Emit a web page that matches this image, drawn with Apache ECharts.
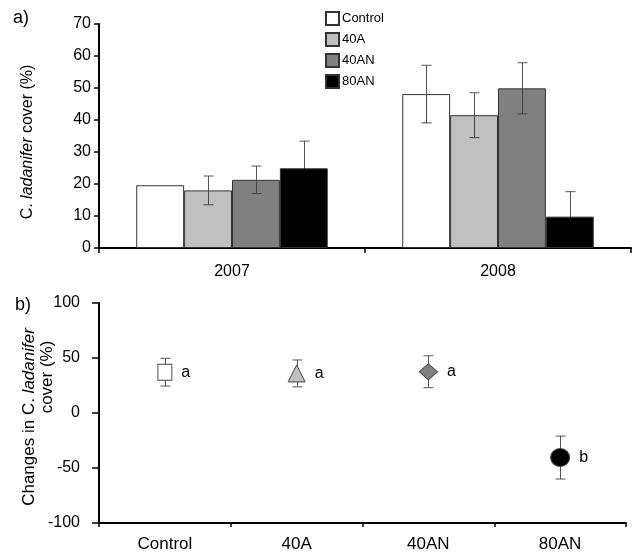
<!DOCTYPE html>
<html>
<head>
<meta charset="utf-8">
<script src="https://cdn.jsdelivr.net/npm/echarts@6/dist/echarts.min.js"></script>
<style>
html,body{margin:0;padding:0;background:#fff;}
#chart{width:634px;height:556px;}
</style>
</head>
<body>
<div id="chart"></div>
<script>
// ---- data ----
const years = ['2007', '2008'];
const treatments = ['Control', '40A', '40AN', '80AN'];
const coverControl = [19.6, 48.1];
const cover40A = [18.0, 41.5];
const cover40AN = [21.3, 49.9];
const cover80AN = [24.9, 9.8];
const errControl = [0, 9.0];
const err40A = [4.5, 7.0];
const err40AN = [4.3, 8.0];
const err80AN = [8.5, 7.8];

const changeMean = [37.1, 36.0, 37.5, -40.5];
const changeErr = [12.6, 12.2, 14.5, 19.5];
const groupLetters = ['a', 'a', 'a', 'b'];

// ---- styles ----
const FONT = 'Liberation Sans, Arial, Helvetica, sans-serif';
const fills = ['#ffffff', '#c0c0c0', '#808080', '#000000'];
const symbols = ['rect', 'triangle', 'diamond', 'circle'];
const symbolSizes = [[14, 16], [17, 17], [18, 16], [19, 18]];
const BAR_FRAC = 0.18;

const coverSeries = [coverControl, cover40A, cover40AN, cover80AN];
const errSeries = [errControl, err40A, err40AN, err80AN];

const series = [];
treatments.forEach((t, i) => {
  series.push({
    type: 'bar', name: t, xAxisIndex: 0, yAxisIndex: 0,
    data: coverSeries[i],
    barWidth: (BAR_FRAC * 100) + '%', barGap: '0%',
    itemStyle: { color: fills[i], borderColor: '#333', borderWidth: 1 },
    emphasis: { disabled: true }, z: 2
  });
});

const barErrData = [];
years.forEach((y, j) => {
  treatments.forEach((t, i) => {
    barErrData.push([j, coverSeries[i][j], errSeries[i][j], i]);
  });
});

function errShape(x, yMid, yTop, yBot, half, colorUp, colorDown) {
  const up = { stroke: colorUp, lineWidth: 1 };
  const dn = { stroke: colorDown, lineWidth: 1 };
  return {
    type: 'group',
    children: [
      { type: 'line', shape: { x1: x, y1: yTop, x2: x, y2: yMid }, style: up },
      { type: 'line', shape: { x1: x, y1: yMid, x2: x, y2: yBot }, style: dn },
      { type: 'line', shape: { x1: x - half, y1: yTop, x2: x + half, y2: yTop }, style: up },
      { type: 'line', shape: { x1: x - half, y1: yBot, x2: x + half, y2: yBot }, style: dn }
    ]
  };
}

series.push({
  type: 'custom', name: 'barErr', xAxisIndex: 0, yAxisIndex: 0,
  data: barErrData, encode: { x: 0, y: 1 }, z: 3, silent: true, clip: false,
  renderItem: function (params, api) {
    const cat = api.value(0), v = api.value(1), e = api.value(2), idx = api.value(3);
    if (!e) return null;
    const band = api.size([1, 0])[0];
    const bw = band * BAR_FRAC;
    const c = api.coord([cat, v]);
    const x = Math.round(c[0] + (idx - 1.5) * bw) + 0.5;
    const yTop = api.coord([cat, v + e])[1];
    const yBot = api.coord([cat, v - e])[1];
    const down = fills[idx] === '#000000' ? '#000000' : '#444';
    return errShape(x, c[1], yTop, yBot, 5, '#555', down);
  }
});

series.push({
  type: 'custom', name: 'changeErr', xAxisIndex: 1, yAxisIndex: 1,
  data: changeMean.map((m, i) => [i, m, changeErr[i]]), encode: { x: 0, y: 1 },
  z: 1, silent: true, clip: false,
  renderItem: function (params, api) {
    const cat = api.value(0), v = api.value(1), e = api.value(2);
    const c = api.coord([cat, v]);
    const x = Math.round(c[0]) + 0.5;
    const yTop = api.coord([cat, v + e])[1];
    const yBot = api.coord([cat, v - e])[1];
    return errShape(x, c[1], yTop, yBot, 5, '#555', '#555');
  }
});

treatments.forEach((t, i) => {
  series.push({
    type: 'scatter', name: t + ' change', xAxisIndex: 1, yAxisIndex: 1,
    data: [[i, changeMean[i]]],
    symbol: symbols[i], symbolSize: symbolSizes[i],
    itemStyle: { color: fills[i], borderColor: '#444', borderWidth: 1, opacity: 1 },
    label: {
      show: true, position: 'right', distance: 9,
      formatter: groupLetters[i], fontSize: 16, color: '#000', fontFamily: FONT
    },
    emphasis: { disabled: true }, z: 2
  });
});

const axisLineStyle = { show: true, onZero: false, lineStyle: { color: '#000', width: 2 } };
const tickStyle = { color: '#000', width: 1.5 };

const option = {
  animation: false,
  backgroundColor: '#fff',
  textStyle: { fontFamily: FONT, color: '#000' },
  legend: {
    orient: 'vertical', left: 325, top: 11, padding: 0,
    data: treatments,
    itemWidth: 13, itemHeight: 13, itemGap: 6,
    icon: 'rect', selectedMode: false,
    textStyle: { fontSize: 13, color: '#000', fontFamily: FONT, padding: [0, 0, 0, -2] }
  },
  grid: [
    { left: 99, right: 3, top: 24, height: 224 },
    { left: 99, right: 8, top: 303, height: 220 }
  ],
  xAxis: [
    {
      type: 'category', gridIndex: 0, data: years,
      axisLine: axisLineStyle,
      axisTick: { show: true, length: 5, lineStyle: tickStyle },
      axisLabel: { fontSize: 16, color: '#000', margin: 16, fontFamily: FONT },
      splitLine: { show: false }
    },
    {
      type: 'category', gridIndex: 1, data: treatments,
      axisLine: axisLineStyle,
      axisTick: { show: true, length: 4, lineStyle: tickStyle },
      axisLabel: { fontSize: 17, color: '#000', margin: 13, fontFamily: FONT },
      splitLine: { show: false }
    }
  ],
  yAxis: [
    {
      type: 'value', gridIndex: 0, min: 0, max: 70, interval: 10,
      axisLine: axisLineStyle,
      axisTick: { show: true, length: 5, lineStyle: tickStyle },
      axisLabel: { fontSize: 16, color: '#000', margin: 8, fontFamily: FONT },
      splitLine: { show: false }
    },
    {
      type: 'value', gridIndex: 1, min: -100, max: 100, interval: 50,
      axisLine: axisLineStyle,
      axisTick: { show: true, length: 7, lineStyle: tickStyle },
      axisLabel: { fontSize: 16, color: '#000', margin: 19, fontFamily: FONT },
      splitLine: { show: false }
    }
  ],
  graphic: [
    { type: 'text', left: 13, top: 9, style: { text: 'a)', font: '18px ' + FONT, fill: '#000' } },
    { type: 'text', left: 15, top: 296, style: { text: 'b)', font: '18px ' + FONT, fill: '#000' } },
    {
      type: 'text', x: 28, y: 142, rotation: Math.PI / 2,
      style: {
        text: '{n|C. }{i|ladanifer}{n| cover (%)}',
        rich: {
          n: { fontSize: 16, fontFamily: FONT, fill: '#000' },
          i: { fontSize: 16, fontFamily: FONT, fontStyle: 'italic', fill: '#000' }
        },
        align: 'center', verticalAlign: 'middle'
      }
    },
    {
      type: 'text', x: 29, y: 417, rotation: Math.PI / 2,
      style: {
        text: '{n|Changes in C. }{i|ladanifer}',
        rich: {
          n: { fontSize: 17, fontFamily: FONT, fill: '#000' },
          i: { fontSize: 17, fontFamily: FONT, fontStyle: 'italic', fill: '#000' }
        },
        align: 'center', verticalAlign: 'middle'
      }
    },
    {
      type: 'text', x: 47, y: 377, rotation: Math.PI / 2,
      style: {
        text: 'cover (%)', font: '17px ' + FONT, fill: '#000',
        align: 'center', verticalAlign: 'middle'
      }
    }
  ],
  series: series
};

const chart = echarts.init(document.getElementById('chart'), null, { renderer: 'canvas' });
chart.setOption(option);
</script>
</body>
</html>
